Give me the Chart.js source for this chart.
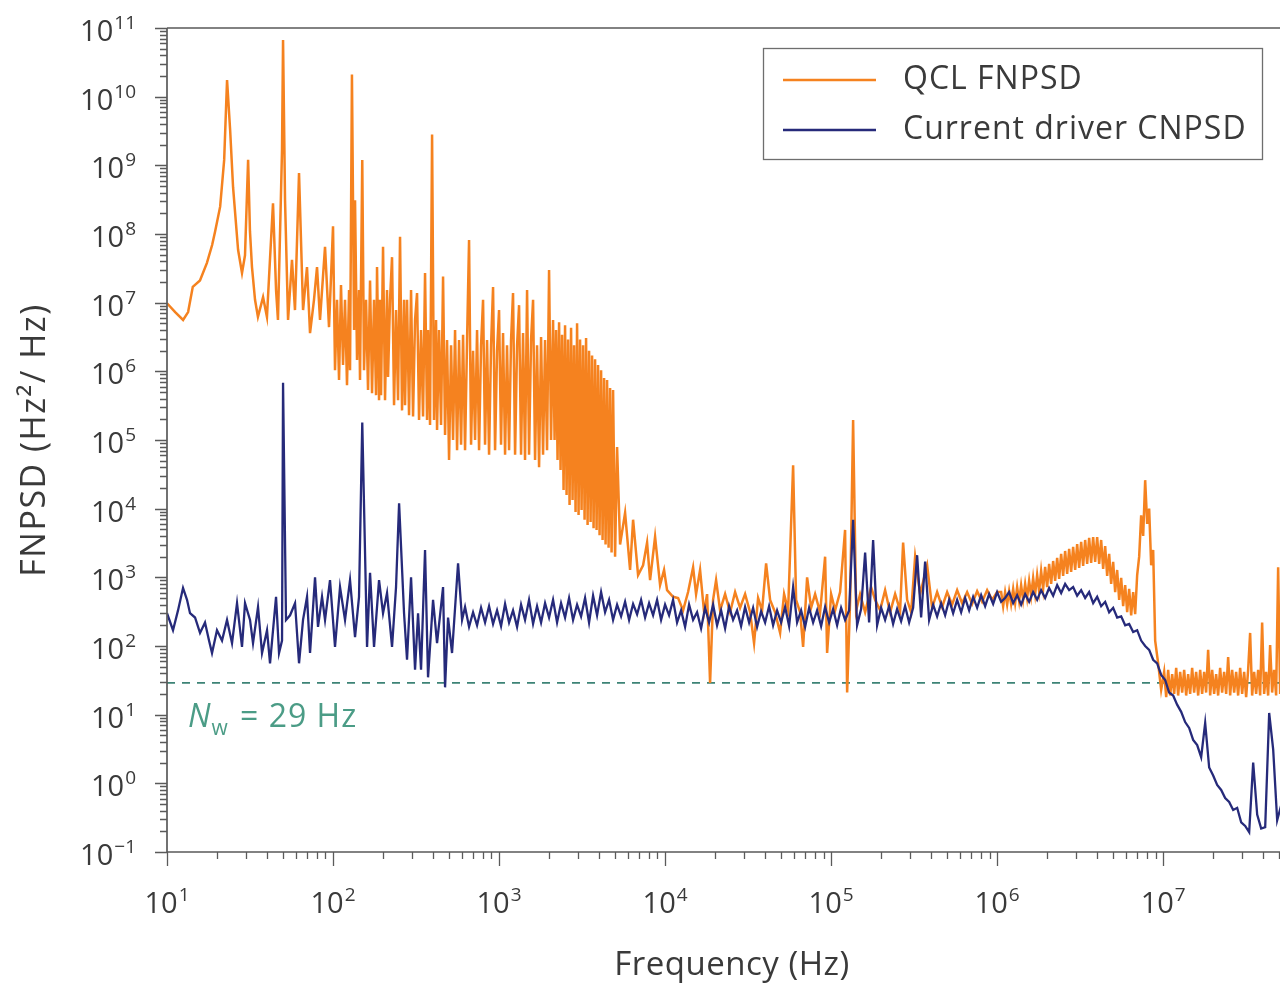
<!DOCTYPE html>
<html>
<head>
<meta charset="utf-8">
<script src="https://cdn.jsdelivr.net/npm/chart.js@4.4.1/dist/chart.umd.min.js"></script>
<style>
  html, body { margin: 0; padding: 0; background: #ffffff; overflow: hidden; }
  #wrap { position: relative; width: 1300px; height: 987px; }
</style>
</head>
<body>
<div id="wrap"><canvas id="psd" width="1300" height="987"></canvas></div>
<script>
// Frequency noise power spectral density of the QCL (Hz, Hz^2/Hz)
const qclFreq = [
  // 10 Hz - 100 Hz
  10, 11.2, 12.5, 13.4, 14.3, 15.8, 17.4, 18.7, 19.5, 20.9,
  22.1, 23.0, 24.0, 25.0, 26.8, 28.3, 29.5, 30.8, 31.6, 32.5,
  33.9, 35.3, 37.9, 40.0, 41.7, 43.5, 45.4, 46.6, 49.3, 50.0,
  51.4, 53.6, 56.6, 59.0, 62.4, 66.0, 69.7, 72.7, 76.8, 80.1,
  83.5, 89.5, 94.6,
  // 100 Hz - 2 kHz
  100, 102.8, 105.7, 108.7, 111.7, 114.9, 118.1, 121.4, 124.9, 126.6,
  130, 133.9, 135.7, 139.5, 143.4, 145.4, 150, 153.7, 158.1, 162.5,
  167.1, 171.8, 176.6, 181.6, 184.1, 189.3, 191.9, 194.6, 200.1, 205.7,
  211.5, 214.5, 220.5, 226.7, 233.1, 239.6, 246.4, 253.3, 260.4, 267.8,
  271.5, 279.1, 287.0, 295.1, 303.4, 311.9, 320.7, 329.7, 339.0, 348.5,
  358.3, 368.4, 373.5, 384.0, 395, 405.9, 417.4, 423.2, 435.1, 447.4,
  460.0, 472.9, 486.2, 499.9, 514.0, 528.4, 543.3, 558.6, 574.3, 590.5,
  607.1, 624.1, 641.7, 659.7, 678.3, 697.4, 717.0, 737.1, 757.9, 779.2,
  801.1, 823.6, 846.8, 870.6, 895.1, 920.3, 946.2, 972.8, 1000, 1028,
  1057, 1087, 1117, 1149, 1181, 1214, 1249, 1284, 1320, 1357,
  1395, 1434, 1475, 1516, 1559, 1603, 1648, 1694, 1742, 1791,
  1841, 1893, 1946, 2001, 2057,
  // 2 kHz - 5 kHz
  2115, 2160, 2205, 2251, 2299, 2347, 2396, 2447, 2498, 2551,
  2604, 2659, 2715, 2772, 2830, 2890, 2951, 3013, 3076, 3141,
  3207, 3275, 3343, 3414, 3485, 3559, 3633, 3710, 3788, 3868,
  3948, 4031, 4117, 4203, 4292, 4382, 4474, 4568, 4664, 4762,
  4862,
  // 5 kHz - 1 MHz
  4999, 5140, 5358, 5743, 6155, 6417, 6877, 7371, 7792, 8122,
  8706, 9331, 9860, 10280, 11170, 11980, 12840, 13760, 14750, 15370,
  16250, 17180, 17910, 18670, 19460, 20290, 21450, 22990, 24640, 26410,
  28300, 30340, 32520, 34360, 36330, 38400, 40600, 42920, 46000, 49300,
  52100, 55100, 59050, 61550, 65070, 67830, 71700, 75790, 80110, 85860,
  92030, 94620, 1.0e5, 105700, 113300, 121400, 124900, 130200, 135700, 141500,
  149500, 160300, 174200, 184100, 197300, 211500, 226700, 243000, 260400, 271500,
  287000, 303400, 320700, 343600, 378800, 406000, 435100, 466400, 499900, 535800,
  574300, 615500, 659700, 707000, 757900, 812200, 870600, 933100, 1.0e6,
  // 1 MHz - 10 MHz
  1.057e6, 1.087e6, 1.117e6, 1.149e6, 1.181e6, 1.214e6, 1.249e6, 1.284e6, 1.320e6, 1.357e6,
  1.395e6, 1.434e6, 1.475e6, 1.516e6, 1.559e6, 1.603e6, 1.648e6, 1.694e6, 1.742e6, 1.791e6,
  1.841e6, 1.893e6, 1.946e6, 2.001e6, 2.057e6, 2.115e6, 2.175e6, 2.236e6, 2.299e6, 2.363e6,
  2.430e6, 2.498e6, 2.568e6, 2.641e6, 2.715e6, 2.791e6, 2.870e6, 2.951e6, 3.034e6, 3.119e6,
  3.207e6, 3.297e6, 3.390e6, 3.485e6, 3.583e6, 3.684e6, 3.788e6, 3.894e6, 4.004e6, 4.117e6,
  4.232e6, 4.351e6, 4.474e6, 4.600e6, 4.729e6, 4.862e6, 4.999e6, 5.140e6, 5.284e6, 5.433e6,
  5.586e6, 5.743e6, 5.905e6, 6.071e6, 6.241e6, 6.417e6, 6.597e6, 6.783e6, 6.974e6, 7.170e6,
  7.371e6, 7.579e6, 7.792e6, 8.011e6, 8.236e6, 8.468e6, 8.706e6, 8.951e6, 9.331e6, 9.728e6,
  // above 10 MHz
  1.014e7, 1.043e7, 1.072e7, 1.102e7, 1.133e7, 1.165e7, 1.198e7, 1.231e7, 1.266e7, 1.302e7,
  1.338e7, 1.376e7, 1.414e7, 1.454e7, 1.495e7, 1.537e7, 1.580e7, 1.625e7, 1.671e7, 1.717e7,
  1.766e7, 1.815e7, 1.866e7, 1.919e7, 1.973e7, 2.028e7, 2.085e7, 2.144e7, 2.204e7, 2.266e7,
  2.330e7, 2.396e7, 2.463e7, 2.532e7, 2.603e7, 2.677e7, 2.752e7, 2.829e7, 2.909e7, 2.991e7,
  3.075e7, 3.161e7, 3.250e7, 3.341e7, 3.435e7, 3.532e7, 3.631e7, 3.733e7, 3.838e7, 3.946e7,
  4.057e7, 4.171e7, 4.289e7, 4.409e7, 4.533e7, 4.661e7, 4.792e7, 4.927e7, 5.065e7, 5.208e7,
  5.354e7, 5.505e7, 5.659e7, 5.819e7, 5.982e7, 6.150e7
];
const qclPsd = [
  // 10 Hz - 100 Hz
  9.8e6, 7.3e6, 5.6e6, 7.3e6, 1.7e7, 2.1e7, 3.8e7, 6.9e7, 1.1e8, 2.5e8,
  1.2e9, 1.75e10, 3.3e9, 4.8e8, 5.9e7, 2.7e7, 4.9e7, 1.2e9, 1.1e8, 3.3e7,
  1.1e7, 6.2e6, 1.2e7, 6.2e6, 4.2e7, 2.8e8, 1.5e7, 5.6e6, 1.7e9, 6.7e10,
  3.1e8, 5.6e6, 4.2e7, 7.8e6, 7.7e8, 7.8e6, 3.3e7, 3.6e6, 1.1e7, 3.3e7,
  5.6e6, 6.5e7, 4.4e6,
  // 100 Hz - 2 kHz
  1.3e8, 1.04e6, 1.1e7, 7.5e5, 1.81e7, 1.24e6, 1.1e7, 6.3e5, 1.53e7, 1.04e6,
  2.1e10, 4.0e6, 3.1e8, 1.46e6, 1.53e7, 7.5e5, 1.2e9, 1.04e6, 1.1e7, 5.35e5,
  2.1e7, 4.8e5, 1.1e7, 4.5e5, 3.3e7, 3.8e5, 1.1e7, 4.5e5, 6.5e7, 3.8e5,
  1.53e7, 8.3e5, 1.1e7, 4.6e7, 3.2e5, 7.8e6, 3.8e5, 9.1e7, 2.7e5, 1.1e7,
  3.2e5, 1.1e7, 2.3e5, 1.53e7, 2.2e5, 5.6e6, 1.38e7, 1.95e5, 4.0e6, 2.2e5,
  2.7e7, 1.95e5, 4.0e6, 1.65e5, 2.8e9, 1.95e5, 5.6e6, 1.4e5, 4.0e6, 1.65e5,
  2.4e7, 1.18e5, 2.86e6, 5.1e4, 2.4e6, 1.0e5, 4.0e6, 7.1e4, 2.86e6, 8.5e4,
  3.4e6, 7.1e4, 2.86e6, 8.2e7, 8.5e4, 2.0e6, 1.0e5, 4.0e6, 7.1e4, 2.4e6,
  1.1e7, 8.5e4, 2.86e6, 6.1e4, 2.4e6, 1.69e7, 7.1e4, 2.0e6, 7.8e6, 8.5e4,
  3.6e6, 6.1e4, 2.4e6, 7.1e4, 2.86e6, 1.38e7, 6.1e4, 2.4e6, 9.2e6, 6.1e4,
  3.6e6, 5.1e4, 1.53e7, 6.1e4, 2.86e6, 1.1e7, 5.1e4, 2.4e6, 4.0e4, 3.16e6,
  6.1e4, 2.86e6, 7.1e4, 3.0e7, 1.0e5,
  // 2 kHz - 5 kHz
  5.6e6, 1.0e5, 4.0e6, 5.1e4, 5.2e6, 3.66e4, 3.4e6, 1.87e4, 4.7e6, 1.58e4,
  2.9e6, 1.13e4, 4.3e6, 1.34e4, 2.4e6, 8.95e3, 5.0e6, 8.1e3, 2.9e6, 9.6e3,
  2.4e6, 6.9e3, 3.05e6, 5.8e3, 2.0e6, 6.4e3, 1.7e6, 5.2e3, 1.5e6, 4.9e3,
  1.24e6, 4.1e3, 1.04e6, 3.5e3, 8.0e5, 3.0e3, 7.5e5, 2.7e3, 5.7e5, 2.3e3,
  5.35e5,
  // 5 kHz - 1 MHz
  2.0e3, 7.9e4, 3.0e3, 8.7e3, 1.28e3, 6.9e3, 1.08e3, 1.5e3, 3.2e3, 9.1e2,
  3.9e3, 7.7e2, 1.28e3, 6.5e2, 5.2e2, 5.0e2, 3.3e2, 6.1e2, 1.4e3, 5.7e2,
  1.28e3, 3.1e2, 5.7e2, 2.9e1, 4.7e2, 9.1e2, 3.3e2, 5.7e2, 3.1e2, 6.1e2,
  3.6e2, 5.7e2, 3.1e2, 1.1e2, 5.0e2, 3.3e2, 1.6e3, 4.7e2, 3.1e2, 1.55e2,
  5.7e2, 3.3e2, 4.3e4, 4.7e2, 3.1e2, 9.7e1, 1.0e3, 3.6e2, 5.7e2, 3.1e2,
  2.0e3, 7.9e1, 5.7e2, 3.3e2, 6.1e2, 4.9e3, 2.1e1, 4.7e2, 1.95e5, 3.3e2,
  5.7e2, 3.1e2, 7.2e2, 4.7e2, 3.3e2, 6.5e2, 3.1e2, 5.7e2, 3.3e2, 3.2e3,
  4.7e2, 3.1e2, 2.0e3, 5.7e2, 1.5e3, 3.6e2, 6.1e2, 3.7e2, 6.1e2, 4.0e2,
  6.5e2, 4.2e2, 6.1e2, 4.1e2, 6.3e2, 4.4e2, 6.5e2, 4.7e2, 6.1e2,
  // 1 MHz - 10 MHz
  6.1e2, 3.8e2, 6.1e2, 4.0e2, 6.3e2, 4.1e2, 6.8e2, 4.2e2, 7.2e2, 4.5e2,
  7.7e2, 4.7e2, 8.0e2, 5.0e2, 8.9e2, 5.35e2, 9.8e2, 5.7e2, 1.08e3, 6.3e2,
  1.24e3, 6.8e2, 1.42e3, 7.2e2, 1.57e3, 8.0e2, 1.73e3, 8.9e2, 1.92e3, 9.5e2,
  2.19e3, 1.05e3, 2.42e3, 1.12e3, 2.59e3, 1.2e3, 2.77e3, 1.28e3, 3.06e3, 1.37e3,
  3.28e3, 1.47e3, 3.5e3, 1.57e3, 3.75e3, 1.62e3, 3.87e3, 1.68e3, 3.87e3, 1.57e3,
  3.5e3, 1.33e3, 2.86e3, 1.05e3, 2.19e3, 8.0e2, 1.68e3, 6.1e2, 1.28e3, 4.7e2,
  9.8e2, 3.8e2, 7.7e2, 3.1e2, 6.8e2, 2.8e2, 6.1e2, 2.9e2, 1.08e3, 2.0e3,
  8.0e3, 4.0e3, 2.6e4, 6.0e3, 1.0e4, 1.5e3, 2.5e3, 1.2e2, 5.6e1, 2.3e1,
  // above 10 MHz
  4.2e1, 1.8e1, 4.5e1, 1.9e1, 3.9e1, 2.0e1, 4.8e1, 1.9e1, 4.2e1, 2.1e1,
  4.5e1, 1.9e1, 3.9e1, 2.0e1, 4.8e1, 2.1e1, 4.2e1, 1.9e1, 4.5e1, 2.0e1,
  4.2e1, 2.1e1, 8.8e1, 1.9e1, 4.5e1, 2.0e1, 3.9e1, 1.9e1, 4.8e1, 2.1e1,
  4.2e1, 2.0e1, 6.9e1, 1.9e1, 4.5e1, 2.1e1, 4.2e1, 1.9e1, 4.8e1, 2.0e1,
  4.2e1, 1.8e1, 4.5e1, 1.55e2, 1.9e1, 4.2e1, 2.0e1, 4.5e1, 1.9e1, 2.2e2,
  2.0e1, 4.2e1, 1.9e1, 1.03e2, 2.1e1, 4.5e1, 1.9e1, 1.4e3, 2.0e1, 4.2e1,
  1.9e1, 4.5e1, 2.0e1, 4.2e1, 1.9e1, 4.5e1
];

// Current noise PSD of the driver, scaled to frequency noise (Hz, Hz^2/Hz)
const driverFreq = [
  10, 10.87, 11.65, 12.49, 13.2, 13.76, 14.75, 15.81, 16.94, 17.91, 18.67, 20.0, 21.45, 22.99, 24.64, 26.41, 28.3, 29.51, 31.63, 32.97,
  35.34, 37.35, 40.04, 41.74, 45.37, 47.29, 49.3, 50.0, 52.1, 55.1, 59.05, 62.41, 65.97, 69.74, 72.7, 77.92, 81.2, 85.86, 89.51, 95.9,
  102.8, 110.2, 118.1, 126.6, 135.7, 143.4, 150, 160.3, 167.1, 176.6, 189.3, 200.1, 211.5, 226.7, 239.6, 250, 267.8, 279.1, 295.1, 311.9,
  325.2, 339, 358.3, 373.5, 400.4, 423.2, 460, 472.9, 493, 521, 566.4, 598.8, 624.1, 659.7, 697.4, 737.1, 779.2, 823.6, 870.6, 920.3,
  972.8, 1028, 1087, 1149, 1214, 1284, 1357, 1434, 1516, 1603, 1694, 1791, 1893, 2001, 2115, 2236, 2363, 2498, 2641, 2791,
  2951, 3119, 3297, 3485, 3684, 3894, 4117, 4351, 4600, 4862, 5140, 5433, 5743, 6071, 6417, 6783, 7170, 7579, 8011, 8468,
  8951, 9462, 10000, 10570, 11170, 11810, 12490, 13200, 13950, 14750, 15590, 16480, 17420, 18410, 19460, 20570, 21750, 22990, 24300, 25680,
  27150, 28700, 30340, 32070, 33900, 35830, 37880, 40040, 42320, 44740, 47290, 49990, 52840, 55860, 59050, 62410, 65970, 69740, 73710, 77920,
  82360, 87060, 92030, 97280, 102800, 108700, 114900, 121400, 128400, 135700, 143400, 151600, 160300, 169400, 179100, 189300, 200100, 211500, 223600, 236300,
  249800, 264100, 279100, 295100, 311900, 329700, 348500, 368400, 389400, 411700, 435100, 460000, 486200, 514000, 543300, 574300, 607100, 641700, 678300, 717000,
  757900, 801100, 846800, 895100, 946200, 1.0e6, 1.057e6, 1.117e6, 1.181e6, 1.249e6, 1.320e6, 1.395e6, 1.475e6, 1.559e6, 1.648e6, 1.742e6, 1.841e6, 1.946e6, 2.057e6, 2.175e6,
  2.299e6, 2.430e6, 2.568e6, 2.715e6, 2.870e6, 3.034e6, 3.207e6, 3.390e6, 3.583e6, 3.788e6, 4.004e6, 4.232e6, 4.474e6, 4.729e6, 4.999e6, 5.284e6, 5.586e6, 5.905e6, 6.241e6, 6.597e6,
  6.974e6, 7.371e6, 7.792e6, 8.236e6, 8.706e6, 9.203e6, 9.728e6, 1.028e7, 1.087e7, 1.149e7, 1.214e7, 1.284e7, 1.357e7, 1.434e7, 1.516e7, 1.603e7, 1.694e7, 1.791e7, 1.893e7, 2.001e7,
  2.115e7, 2.236e7, 2.363e7, 2.498e7, 2.641e7, 2.791e7, 2.951e7, 3.119e7, 3.297e7, 3.485e7, 3.684e7, 3.894e7, 4.117e7, 4.351e7, 4.600e7, 4.862e7, 5.140e7, 5.433e7, 5.743e7
];
const driverPsd = [
  3.0e2, 1.7e2, 3.3e2, 7.0e2, 4.7e2, 3.0e2, 2.6e2, 1.55e2, 2.2e2, 1.2e2, 7.9e1, 1.7e2, 1.2e2, 2.4e2, 1.1e2, 4.2e2, 9.7e1, 4.2e2, 2.4e2, 1.1e2,
  3.7e2, 7.9e1, 1.7e2, 5.6e1, 5.2e2, 7.9e1, 1.2e2, 6.8e5, 2.4e2, 2.8e2, 4.2e2, 5.6e1, 2.4e2, 5.2e2, 7.9e1, 1.0e3, 1.9e2, 5.2e2, 2.4e2, 9.1e2,
  9.7e1, 7.2e2, 2.4e2, 9.1e2, 1.35e2, 5.2e2, 1.8e5, 9.7e1, 1.16e3, 9.7e1, 9.1e2, 3.0e2, 5.9e2, 9.7e1, 7.2e2, 1.2e4, 3.0e2, 6.3e1, 1.0e3, 4.5e1,
  3.0e2, 4.5e1, 2.5e3, 3.5e1, 4.7e2, 1.1e2, 7.2e2, 2.5e1, 2.6e2, 7.9e1, 1.6e3, 2.4e2, 3.7e2, 1.9e2, 3.1e2, 2.0e2, 3.6e2, 2.2e2, 3.8e2, 2.1e2,
  3.3e2, 1.95e2, 4.1e2, 2.2e2, 3.3e2, 1.9e2, 4.0e2, 2.4e2, 4.7e2, 2.1e2, 3.8e2, 2.2e2, 4.2e2, 2.6e2, 4.7e2, 2.2e2, 4.2e2, 2.6e2, 5.0e2, 2.4e2,
  4.0e2, 2.7e2, 5.0e2, 2.2e2, 5.4e2, 2.8e2, 6.1e2, 3.1e2, 4.7e2, 2.4e2, 4.0e2, 2.7e2, 4.4e2, 2.4e2, 4.1e2, 2.9e2, 4.7e2, 2.6e2, 4.2e2, 2.8e2,
  4.7e2, 2.4e2, 4.0e2, 2.8e2, 4.7e2, 2.2e2, 3.3e2, 1.9e2, 4.0e2, 2.4e2, 3.1e2, 1.8e2, 3.6e2, 2.2e2, 4.0e2, 2.0e2, 3.3e2, 1.8e2, 3.8e2, 2.4e2,
  3.3e2, 1.95e2, 3.7e2, 2.2e2, 3.6e2, 1.9e2, 3.2e2, 2.2e2, 3.8e2, 2.0e2, 3.3e2, 2.2e2, 3.7e2, 1.95e2, 7.2e2, 2.2e2, 3.3e2, 1.9e2, 3.6e2, 2.2e2,
  3.3e2, 1.95e2, 3.7e2, 2.2e2, 3.45e2, 2.0e2, 3.6e2, 2.4e2, 3.3e2, 6.9e3, 2.0e2, 3.45e2, 2.3e3, 2.2e2, 3.5e3, 2.0e2, 3.6e2, 2.4e2, 3.8e2, 2.1e2,
  3.45e2, 2.3e2, 3.8e2, 2.2e2, 3.6e2, 2.1e3, 2.6e2, 1.7e3, 2.4e2, 4.0e2, 2.7e2, 4.2e2, 2.8e2, 4.7e2, 3.0e2, 4.7e2, 3.1e2, 5.0e2, 3.3e2, 5.2e2,
  3.6e2, 5.5e2, 3.8e2, 5.7e2, 4.1e2, 6.1e2, 4.4e2, 5.0e2, 6.1e2, 4.2e2, 5.5e2, 4.0e2, 5.7e2, 4.4e2, 6.1e2, 4.7e2, 6.5e2, 5.0e2, 7.0e2, 5.4e2,
  7.7e2, 5.9e2, 8.0e2, 6.5e2, 7.2e2, 5.4e2, 6.5e2, 5.0e2, 6.1e2, 4.2e2, 5.2e2, 3.8e2, 4.4e2, 3.1e2, 3.6e2, 2.6e2, 2.7e2, 2.0e2, 2.1e2, 1.6e2,
  1.7e2, 1.2e2, 1.0e2, 8.8e1, 6.3e1, 5.6e1, 3.8e1, 3.2e1, 2.1e1, 1.9e1, 1.4e1, 1.1e1, 7.8, 6.4, 4.3, 3.6, 2.4, 7.6, 1.7, 1.3,
  0.95, 0.80, 0.61, 0.535, 0.41, 0.44, 0.27, 0.24, 0.195, 2.0, 0.35, 0.22, 0.23, 10.6, 3.1, 0.29, 0.48, 0.27, 0.38
];

// White frequency-noise floor N_w (Hz^2/Hz)
const whiteNoiseLevel = 29;

const seriesNames = ['QCL FNPSD', 'Current driver CNPSD'];
const freqRange = [10, 6.4e7];
const psdRange = [0.1, 1e11];
const xDecades = [1, 2, 3, 4, 5, 6, 7];
const yDecades = [-1, 0, 1, 2, 3, 4, 5, 6, 7, 8, 9, 10, 11];

const ORANGE = '#f5821f';
const NAVY = '#262a7a';
const TEAL_LINE = '#3d8376';
const TEAL_TEXT = '#4b9c86';
const AXIS = '#5a5a5a';
const INK = '#3a3a3a';
const FONT = '"Open Sans", "DejaVu Sans", sans-serif';

const toPoints = (xs, ys) => xs.map((x, i) => ({ x, y: ys[i] }));

function spaced(ctx, px) {
  if ('letterSpacing' in ctx) ctx.letterSpacing = px + 'px';
}

// "10" with a raised exponent; anchor is the right edge or the centre
function drawPower(ctx, exp, x, baseY, align) {
  const big = '400 29px ' + FONT;
  const small = '400 19px ' + FONT;
  const expText = exp < 0 ? '\u2212' + Math.abs(exp) : String(exp);
  ctx.font = big;
  const wBase = ctx.measureText('10').width;
  ctx.font = small;
  const wExp = ctx.measureText(expText).width;
  const total = wBase + 1 + wExp;
  const left = align === 'right' ? x - total : x - total / 2;
  ctx.textAlign = 'left';
  ctx.textBaseline = 'alphabetic';
  ctx.font = big;
  ctx.fillText('10', left, baseY);
  ctx.font = small;
  ctx.fillText(expText, left + wBase + 1, baseY - 12);
}

const framePlugin = {
  id: 'frame',
  afterDraw(chart) {
    const { ctx, chartArea: a, scales: { x, y } } = chart;
    ctx.save();

    // axes and top frame line
    ctx.strokeStyle = AXIS;
    ctx.lineWidth = 1.7;
    ctx.beginPath();
    ctx.moveTo(a.left, a.top);
    ctx.lineTo(a.right + 5, a.top);
    ctx.moveTo(a.left, a.top);
    ctx.lineTo(a.left, a.bottom);
    ctx.lineTo(a.right + 5, a.bottom);
    ctx.stroke();

    // log tick marks (decades long, 2..9 short)
    ctx.lineWidth = 1.3;
    ctx.beginPath();
    yDecades.forEach(e => {
      for (let m = 1; m <= 9; m++) {
        const v = m * Math.pow(10, e);
        if (v > psdRange[1] * 1.0001) break;
        const py = Math.round(y.getPixelForValue(v)) + 0.5;
        const len = m === 1 ? 12 : 7;
        ctx.moveTo(a.left - len, py);
        ctx.lineTo(a.left, py);
      }
    });
    for (let e = 1; e <= 7; e++) {
      for (let m = 1; m <= 9; m++) {
        const v = m * Math.pow(10, e);
        if (v > freqRange[1]) break;
        const px = Math.round(x.getPixelForValue(v)) + 0.5;
        const len = m === 1 ? 14 : 7;
        ctx.moveTo(px, a.bottom);
        ctx.lineTo(px, a.bottom + len);
      }
    }
    ctx.stroke();

    // tick labels
    ctx.fillStyle = INK;
    yDecades.forEach(e => {
      const py = y.getPixelForValue(Math.pow(10, e));
      drawPower(ctx, e, a.left - 31, py + 13, 'right');
    });
    xDecades.forEach(e => {
      const px = x.getPixelForValue(Math.pow(10, e));
      drawPower(ctx, e, px, a.bottom + 61, 'center');
    });

    // axis titles
    ctx.fillStyle = INK;
    ctx.textAlign = 'center';
    ctx.textBaseline = 'middle';
    ctx.font = '400 33px ' + FONT;
    spaced(ctx, 0.5);
    ctx.fillText('Frequency (Hz)', (a.left + a.right) / 2, 966);
    ctx.save();
    ctx.translate(35, (a.top + a.bottom) / 2);
    ctx.rotate(-Math.PI / 2);
    ctx.font = '400 34px ' + FONT;
    spaced(ctx, 1.5);
    ctx.fillText('FNPSD (Hz\u00B2/ Hz)', 0, 0);
    ctx.restore();

    // white-noise annotation
    const ny = y.getPixelForValue(whiteNoiseLevel);
    let tx = a.left + 21;
    const tBase = ny + 44;
    ctx.fillStyle = TEAL_TEXT;
    ctx.textAlign = 'left';
    ctx.textBaseline = 'alphabetic';
    spaced(ctx, 1);
    ctx.font = 'italic 400 32px ' + FONT;
    ctx.fillText('N', tx, tBase);
    tx += ctx.measureText('N').width;
    ctx.font = '400 21px ' + FONT;
    ctx.fillText('w', tx, tBase + 8);
    tx += ctx.measureText('w').width + 2;
    ctx.font = '400 32px ' + FONT;
    ctx.fillText(' = ' + whiteNoiseLevel + ' Hz', tx, tBase);

    // legend
    spaced(ctx, 0);
    const lg = { left: 763.5, top: 48.5, width: 499, height: 111 };
    ctx.fillStyle = '#ffffff';
    ctx.fillRect(lg.left, lg.top, lg.width, lg.height);
    ctx.strokeStyle = '#6e6e6e';
    ctx.lineWidth = 1.3;
    ctx.strokeRect(lg.left, lg.top, lg.width, lg.height);
    const rows = [[seriesNames[0], ORANGE, 80], [seriesNames[1], NAVY, 130]];
    rows.forEach(([label, color, ry]) => {
      ctx.strokeStyle = color;
      ctx.lineWidth = 2.4;
      ctx.beginPath();
      ctx.moveTo(783, ry);
      ctx.lineTo(876, ry);
      ctx.stroke();
      ctx.fillStyle = INK;
      ctx.font = '400 32px ' + FONT;
      spaced(ctx, 1);
      ctx.textBaseline = 'middle';
      ctx.fillText(label, 903, ry);
      spaced(ctx, 0);
    });

    ctx.restore();
  }
};

new Chart(document.getElementById('psd'), {
  type: 'line',
  data: {
    datasets: [
      {
        label: seriesNames[1],
        data: toPoints(driverFreq, driverPsd),
        borderColor: NAVY,
        borderWidth: 2.3,
        pointRadius: 0,
        tension: 0,
        order: 0
      },
      {
        label: seriesNames[0],
        data: toPoints(qclFreq, qclPsd),
        borderColor: ORANGE,
        borderWidth: 2.5,
        pointRadius: 0,
        tension: 0,
        order: 1
      },
      {
        label: 'Nw',
        data: [{ x: freqRange[0], y: whiteNoiseLevel }, { x: freqRange[1], y: whiteNoiseLevel }],
        borderColor: TEAL_LINE,
        borderWidth: 1.7,
        borderDash: [8, 7],
        pointRadius: 0,
        order: 2
      }
    ]
  },
  options: {
    responsive: false,
    animation: false,
    events: [],
    layout: { padding: { left: 167, top: 28, right: 3, bottom: 135 } },
    plugins: { legend: { display: false }, tooltip: { enabled: false } },
    scales: {
      x: {
        type: 'logarithmic',
        min: freqRange[0],
        max: freqRange[1],
        ticks: { display: false },
        grid: { display: false, drawTicks: false },
        border: { display: false }
      },
      y: {
        type: 'logarithmic',
        min: psdRange[0],
        max: psdRange[1],
        ticks: { display: false },
        grid: { display: false, drawTicks: false },
        border: { display: false }
      }
    }
  },
  plugins: [framePlugin]
});
</script>
</body>
</html>
